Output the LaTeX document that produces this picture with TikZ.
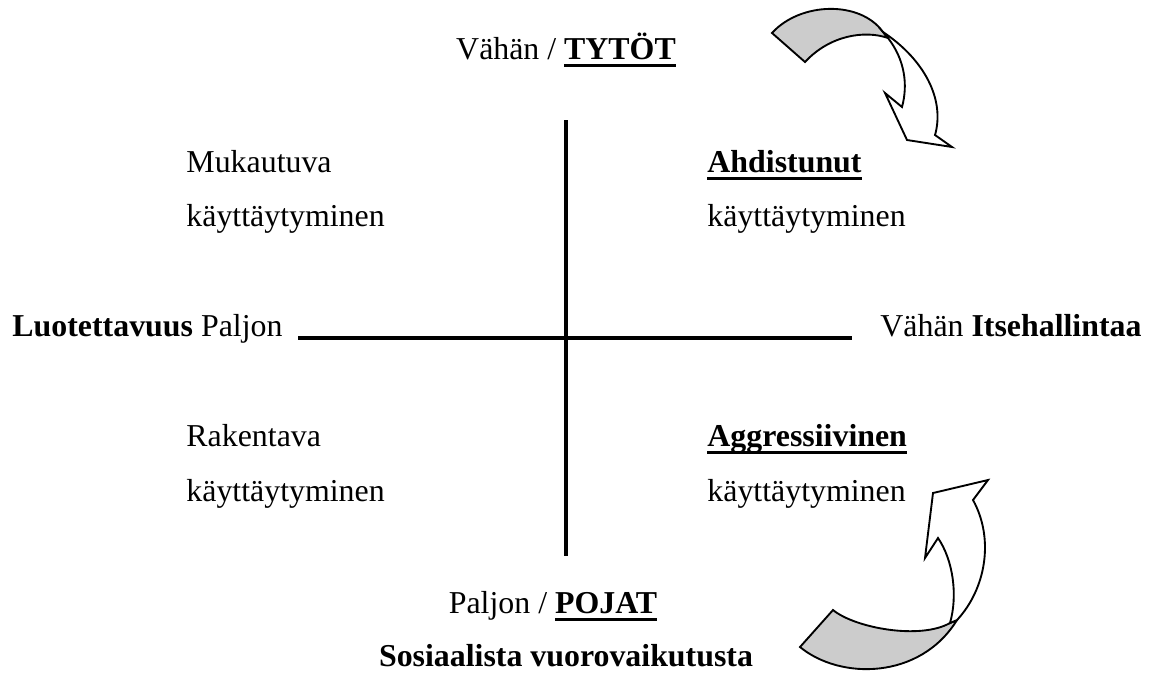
\documentclass[tikz,border=0pt]{standalone}
\usepackage{fontspec}
\setmainfont{Liberation Serif}
\usetikzlibrary{positioning}
\colorlet{bandgray}{black!20}
\newcommand\thickul[1]{\setbox0\hbox{#1}\rlap{\rule[-3.4pt]{\wd0}{1.3pt}}\box0}

\begin{document}
\begin{tikzpicture}[x=0.015cm, y=-0.015cm,
    every node/.style={font=\fontsize{13.6}{16}\selectfont, inner sep=0pt},
    axis/.style={line width=1.8pt},
    band/.style={draw=black, line width=0.8pt, line join=miter}]
    \useasboundingbox (0,0) rectangle (1155,675);

    \coordinate (top) at (566,120);
    \coordinate (bot) at (566,556);
    \coordinate (lft) at (298,338);
    \coordinate (rgt) at (852,338);
    \draw[axis] (top) -- (bot);
    \draw[axis] (lft) -- (rgt);

    \node[anchor=base] (girls) at (566,59) {Vähän / \thickul{\textbf{TYTÖT}}};
    \node[anchor=base] (boys) at (553,613) {Paljon / \thickul{\textbf{POJAT}}};
    \node[anchor=base] (social) at (566,666) {\textbf{Sosiaalista vuorovaikutusta}};
    \node[anchor=base west] (trust) at (12,336) {\textbf{Luotettavuus} Paljon};
    \node[anchor=base east] (self) at (1142,336) {Vähän \textbf{Itsehallintaa}};

    \node[anchor=base west] (adapt) at (186,172) {Mukautuva};
    \node[anchor=base west] (adaptb) at (186,226) {käyttäytyminen};
    \node[anchor=base west] (anx) at (707,172) {\thickul{\textbf{Ahdistunut}}};
    \node[anchor=base west] (anxb) at (707,226) {käyttäytyminen};
    \node[anchor=base west] (build) at (186,446) {Rakentava};
    \node[anchor=base west] (buildb) at (186,501) {käyttäytyminen};
    \node[anchor=base west] (aggr) at (707,446) {\thickul{\textbf{Aggressiivinen}}};
    \node[anchor=base west] (aggrb) at (707,501) {käyttäytyminen};

    % curved arrow, top right
    \draw[band, fill=bandgray] (772,33) .. controls (800,2) and (860,0) .. (883,32)
      -- (888,38) .. controls (865,30) and (830,35) .. (805,62) -- cycle;
    \draw[band, fill=white] (888,38) .. controls (905,60) and (908,85) .. (902,107)
      -- (885,93) -- (907,140) -- (952,147) -- (935,135)
      .. controls (945,100) and (925,60) .. (883,32) -- cycle;

    % curved arrow, bottom right
    \draw[band, fill=bandgray] (800,647) -- (833,610) .. controls (855,628) and (920,640) .. (950,623)
      -- (957,620) .. controls (920,680) and (840,680) .. (800,647) -- cycle;
    \draw[band, fill=white] (950,623) .. controls (958,595) and (953,560) .. (938,538)
      -- (925,558) -- (933,493) -- (988,480) -- (973,500)
      .. controls (995,540) and (985,590) .. (957,620) -- cycle;
  \end{tikzpicture}
\end{document}
